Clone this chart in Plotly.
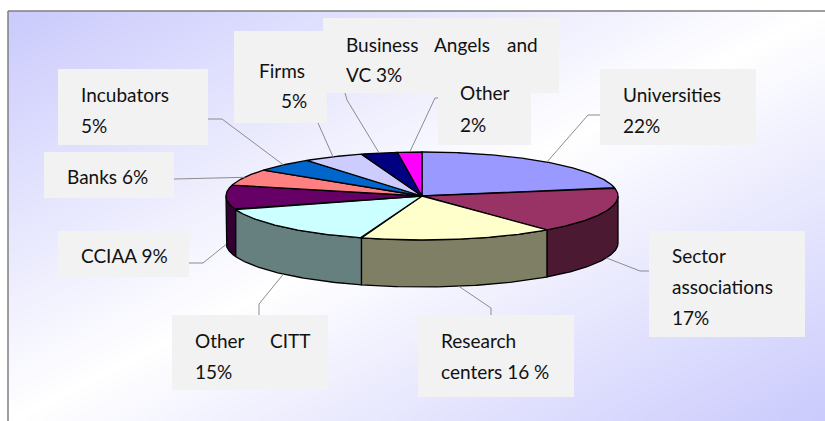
import numpy as np
import plotly.graph_objects as go

# ---------------- data ----------------
categories = ["Universities", "Sector associations", "Research centers", "Other CITT",
              "CCIAA", "Banks", "Incubators", "Firms", "Business Angels and VC", "Other"]
shares = [22, 17, 16, 15, 9, 6, 5, 5, 3, 2]
top_colors = ["#9999FF", "#993366", "#FFFFCC", "#CCFFFF", "#660066",
              "#FF8080", "#0066CC", "#CCCCFF", "#000080", "#FF00FF"]
# label text, split in lines / words (words of justified lines kept apart)
label_text = [
    [["Universities"], ["22%"]],
    [["Sector"], ["associations"], ["17%"]],
    [["Research"], ["centers 16 %"]],
    [["Other", "CITT"], ["15%"]],
    [["CCIAA 9%"]],
    [["Banks 6%"]],
    [["Incubators"], ["5%"]],
    [["Firms"], ["5%"]],
    [["Business", "Angels", "and"], ["VC 3%"]],
    [["Other"], ["2%"]],
]

# ---------------- styling / layout ----------------
W, H = 825, 421
CX, CY, RX, RY, DEPTH = 422, 196, 196, 44, 47
FONT = "Lato"
FS = 19

# label boxes: (x0, y0, x1, y1), word x positions per line, line baselines,
# leader path: elbow point(s) and box attach point
label_layout = [
    dict(box=(600, 69, 756, 145), xs=[[622], [622]], base=[101, 132], path=[(588, 115), (600, 115)]),
    dict(box=(649, 231, 805, 337), xs=[[671], [671], [671]], base=[262, 293, 324], path=[(640, 271), (649, 271)]),
    dict(box=(418, 315, 574, 397), xs=[[440], [440]], base=[347, 378], path=[(491, 308), (491, 315)]),
    dict(box=(172, 315, 328, 390), xs=[[194, 269], [194]], base=[347, 378], path=[(259, 304), (259, 315)]),
    dict(box=(58, 231, 189, 277), xs=[[80]], base=[262], path=[(203, 263), (189, 263)]),
    dict(box=(44, 152, 174, 198), xs=[[66]], base=[183], path=[(174, 179)]),
    dict(box=(58, 69, 208, 145), xs=[[80], [80]], base=[101, 132], path=[(222, 119), (208, 119)]),
    dict(box=(234, 31, 327, 123), xs=[[258], [280]], base=[77, 107], path=[(318, 123)]),
    dict(box=(323, 18, 559, 93), xs=[[345, 433, 506], [345]], base=[51, 81], path=[(347, 100), (345, 93)]),
    dict(box=(438, 75, 531, 145), xs=[[459], [459]], base=[99, 131], path=[(435, 98), (438, 98)]),
]
box_draw_order = [0, 1, 2, 3, 4, 5, 6, 7, 9, 8]


def darker(hexcol, f=0.5):
    h = hexcol.lstrip("#")
    r, g, b = (int(h[i:i + 2], 16) for i in (0, 2, 4))
    return "#%02X%02X%02X" % (int(r * f), int(g * f), int(b * f))


def ell(theta, dy=0.0):
    return CX + RX * np.sin(theta), CY - RY * np.cos(theta) + dy


fig = go.Figure()

# background gradient (lavender - white - lavender along the diagonal)
nx, ny = 60, 40
xe = np.linspace(8, W, nx + 1)
ye = np.linspace(11, H, ny + 1)
xc = (xe[:-1] + xe[1:]) / 2
yc = (ye[:-1] + ye[1:]) / 2
u = (xc - 8) / (W - 8)
v = (yc - 11) / (H - 11)
zbg = v[:, None] + u[None, :]
fig.add_trace(go.Heatmap(x=xe, y=ye, z=zbg, zmin=0, zmax=2, zsmooth="best",
                         colorscale=[[0, "#CACAFD"], [0.5, "#FFFFFF"], [1, "#CACAFD"]],
                         showscale=False, hoverinfo="skip"))

total = float(sum(shares))
cum = np.concatenate([[0], np.cumsum(shares)]) / total
lw = 1.3

# side walls (front half only)
for i, c in enumerate(top_colors):
    a0, a1 = 2 * np.pi * cum[i], 2 * np.pi * cum[i + 1]
    lo, hi = max(a0, np.pi / 2), min(a1, 3 * np.pi / 2)
    if hi <= lo:
        continue
    t = np.linspace(lo, hi, 80)
    xt, yt = ell(t)
    xb, yb = ell(t[::-1], DEPTH)
    fig.add_trace(go.Scatter(x=np.concatenate([xt, xb, xt[:1]]), y=np.concatenate([yt, yb, yt[:1]]),
                             mode="lines", fill="toself", fillcolor=darker(c),
                             line=dict(color="black", width=lw), hoverinfo="skip"))

# top face
for i, c in enumerate(top_colors):
    a0, a1 = 2 * np.pi * cum[i], 2 * np.pi * cum[i + 1]
    t = np.linspace(a0, a1, max(8, int(200 * (a1 - a0))))
    xt, yt = ell(t)
    fig.add_trace(go.Scatter(x=np.concatenate([[CX], xt, [CX]]), y=np.concatenate([[CY], yt, [CY]]),
                             mode="lines", fill="toself", fillcolor=c,
                             line=dict(color="black", width=lw), hoverinfo="skip",
                             name=categories[i]))

shapes = []
# frame
shapes.append(dict(type="line", x0=8, y0=11, x1=W + 5, y1=11, line=dict(color="#7F7F7F", width=1.5), layer="above"))
shapes.append(dict(type="line", x0=8, y0=11, x1=8, y1=H + 5, line=dict(color="#7F7F7F", width=1.5), layer="above"))

# leader lines from slice middle to label box
for i in range(len(shares)):
    am = 2 * np.pi * (cum[i] + cum[i + 1]) / 2
    px, py = ell(am)
    if np.cos(am) < 0:
        py += DEPTH
    pts = [(px, py)] + label_layout[i]["path"]
    d = "M %.1f %.1f " % pts[0] + " ".join("L %.1f %.1f" % p for p in pts[1:])
    shapes.append(dict(type="path", path=d, line=dict(color="#8C8C8C", width=1), layer="above"))

# label boxes
for i in box_draw_order:
    x0, y0, x1, y1 = label_layout[i]["box"]
    shapes.append(dict(type="rect", x0=x0, y0=y0, x1=x1, y1=y1, fillcolor="#F2F2F2",
                       line=dict(width=0), layer="above"))

annotations = []
for i in box_draw_order:
    lay = label_layout[i]
    for words, xs, base in zip(label_text[i], lay["xs"], lay["base"]):
        for w, x in zip(words, xs):
            annotations.append(dict(x=x, y=base - 0.36 * FS, text=w, showarrow=False,
                                    xanchor="left", yanchor="middle", borderpad=0,
                                    font=dict(family=FONT, size=FS, color="#111111")))

fig.update_layout(
    width=W, height=H, margin=dict(l=0, r=0, t=0, b=0),
    paper_bgcolor="white", plot_bgcolor="white", showlegend=False,
    xaxis=dict(range=[0, W], visible=False, fixedrange=True),
    yaxis=dict(range=[H, 0], visible=False, fixedrange=True),
    shapes=shapes, annotations=annotations, hovermode=False, dragmode=False,
)
fig.write_html("out.html", config=dict(displayModeBar=False),
               post_script="document.body.style.margin='0px';document.body.style.overflow='hidden';")
